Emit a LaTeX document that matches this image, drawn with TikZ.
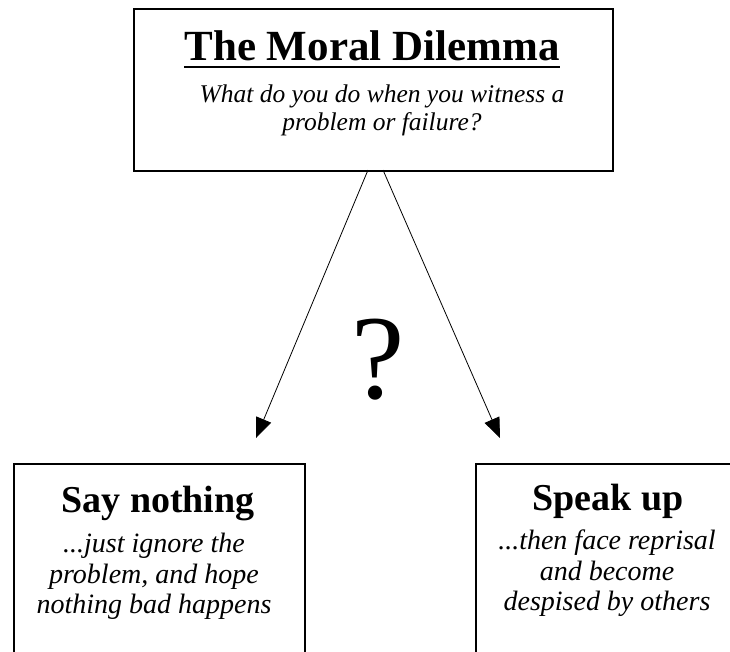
\documentclass[tikz,border=0pt]{standalone}
\usepackage{fontspec}
\setmainfont{Liberation Serif}
\usetikzlibrary{arrows.meta}
\tikzset{
  box/.style={draw=black, line width=1.6pt, fill=none, inner sep=0pt, anchor=north west},
  heading/.style={font=\bfseries\fontsize{43}{48}\selectfont, inner sep=0pt, anchor=base},
  subhead/.style={font=\bfseries\fontsize{38}{42}\selectfont, inner sep=0pt, anchor=base},
  note/.style={font=\itshape\fontsize{25.5}{28}\selectfont, align=center, inner sep=0pt, anchor=north},
  boxnote/.style={font=\itshape\fontsize{28}{30.5}\selectfont, align=center, inner sep=0pt, anchor=north},
  choice/.style={-{Triangle[length=20pt,width=16pt]}, line width=0.8pt}
}
\begin{document}
\begin{tikzpicture}[x=1pt,y=-1pt]
\useasboundingbox (0,0) rectangle (730,651);
\clip (0,0) rectangle (730,651);
% boxes
\node[box, minimum width=479pt, minimum height=162pt] (top) at (133,8) {};
\node[box, minimum width=291pt, minimum height=240pt] (left) at (13,463) {};
\node[box, minimum width=291pt, minimum height=240pt] (right) at (475,463) {};
% texts
\node[heading] (title) at (372,60) {The Moral Dilemma};
\draw[line width=2.6pt] ([yshift=-7pt]title.base west) -- ([yshift=-7pt]title.base east);
\node[note] (question) at (382,85) {What do you do when you witness a\\problem or failure?};
\node[subhead] (saytitle) at (158,512) {Say nothing};
\node[boxnote] (saytext) at (154,533) {...just ignore the\\problem, and hope\\nothing bad happens};
\node[subhead] (speaktitle) at (608,510) {Speak up};
\node[boxnote] (speaktext) at (607,530) {...then face reprisal\\and become\\despised by others};
\node[font=\fontsize{120}{120}\selectfont, inner sep=0pt, anchor=base] (qmark) at (378,398) {?};
% arrows
\coordinate (s1) at (368,170);
\coordinate (s2) at (383,170);
\coordinate (e1) at (256,438);
\coordinate (e2) at (500,438);
\draw[choice] (s1) -- (e1);
\draw[choice] (s2) -- (e2);
\end{tikzpicture}
\end{document}
